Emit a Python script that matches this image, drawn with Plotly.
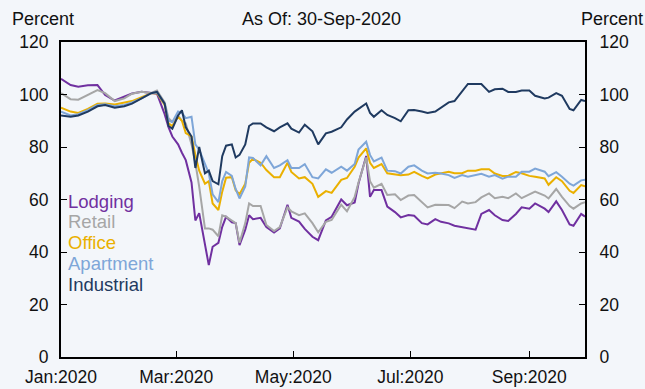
import plotly.graph_objects as go

dates = ["2020-01-01","2020-01-06","2020-01-10","2020-01-15","2020-01-20","2020-01-24","2020-01-29",
         "2020-02-03","2020-02-07","2020-02-12","2020-02-17","2020-02-20","2020-02-24","2020-02-26","2020-02-28",
         "2020-03-02","2020-03-04","2020-03-06","2020-03-09","2020-03-11","2020-03-13","2020-03-16","2020-03-18",
         "2020-03-20","2020-03-23","2020-03-25","2020-03-27","2020-03-30","2020-04-01","2020-04-03","2020-04-06",
         "2020-04-08","2020-04-10","2020-04-14","2020-04-17","2020-04-21","2020-04-24","2020-04-28","2020-04-30",
         "2020-05-04","2020-05-07","2020-05-11","2020-05-14","2020-05-18","2020-05-21","2020-05-26","2020-05-29",
         "2020-06-02","2020-06-04","2020-06-08","2020-06-10","2020-06-12","2020-06-16","2020-06-19","2020-06-23",
         "2020-06-26","2020-06-30","2020-07-03","2020-07-07","2020-07-10","2020-07-14","2020-07-17","2020-07-21",
         "2020-07-24","2020-07-28","2020-07-31","2020-08-04","2020-08-07","2020-08-11","2020-08-14","2020-08-18",
         "2020-08-21","2020-08-25","2020-08-28","2020-09-01","2020-09-04","2020-09-09","2020-09-11","2020-09-15",
         "2020-09-18","2020-09-22","2020-09-24","2020-09-28","2020-09-30"]

lodging = [106,103.6,103,103.5,103.6,99.8,97.7,99.2,100.4,101,100.5,100.3,92.5,87.6,84,81,77.8,75,66.5,52,54.8,43.5,35,
           42,43.5,49.6,53.4,51.3,51,42.6,48.5,54,52.5,53,49.5,47.4,49,58,53,51.6,48.8,45.8,44.5,52,53.4,60,57.8,
           58.9,66.1,76.6,61,63.6,63.6,57.3,55.2,53.2,54.1,53.8,51,50.5,52.5,51.5,50.9,50,49.5,49,48.5,54.5,56,54,
           52.2,51.8,54.5,57,56.5,58.5,56.5,55.2,59.3,56,50.5,50,54.5,53.5]

retail = [100.5,98.2,98,99.8,101.7,100.5,97.5,98.5,100.3,101,100.6,101.5,97,91,89.5,92,90,89,81,74,64.9,49,49,
          48.5,46,54,53.5,52,51,43.5,51,58.5,57.5,57.5,50.3,48,49.5,57,55.5,54,54.7,51,47.5,51.5,52.2,58,55.5,
          61,66.5,76,67,64.5,66,61.7,62,59.8,61.5,61.7,59,57,58,58,57.9,56.7,59.2,58.5,59,60.8,62.3,60.5,
          61,60.5,62.3,60.5,62,63,61.5,60.4,64,61,57.5,56.5,58.5,59]

office = [95,93.5,93,94.5,96.5,96.6,96.2,96.8,97.5,99,100.5,100.5,96,89,88,91.5,90,85.3,84,77,71,66,67,
          58.5,56,63,68.3,68.5,63.5,62,66,74,75.5,74,71.2,68.5,68.5,74,70.5,68,68.5,66,61,63.2,62.5,67.5,68.2,
          72.5,76,79.5,74,72,73.5,70,69.5,69.2,69.5,70.5,69,68,69.5,70,70.6,70,70,71,71,71.5,71.5,69.9,
          69,69,70.5,70,69,68.7,68,65.6,68.5,67,63.3,62.5,65.5,65]

apartment = [93.5,92,92.5,94,96,96.3,95.5,96,97,98.5,100.5,100.8,96.5,90,89.5,93.5,93,91,91.5,81,79,73.5,70,
             62,59,67,70.5,69,64,60.4,65,76,75.8,73,76.5,72,73,75,72,72,73.5,68.5,68,71.5,70.2,72.5,71,
             73.5,79,82,77,74.5,76,71,70.8,69.9,72.5,73,71,69.9,70.2,69.9,69.3,68.2,69.3,68.7,69.3,69.8,68.7,69.3,
             67.9,68.7,68.7,70.6,70.6,71.8,70.6,68.9,70.4,68.7,66,65.3,67.3,67.5]

industrial = [92,91.5,92,93.5,95.5,96,95,95.5,96.5,98.5,100.5,101,96.5,88,87,92,94,87.5,84,72,80,70,71,
              67,65.8,76.5,80.5,81,76,77,81,88,89,89,87.5,86,87.5,89,87,85.5,88.5,86,81,85.2,85.8,87.5,90.5,
              93.5,94.5,96.6,93,91.5,94,92.2,91,89.8,94,94.1,93.5,93,93.5,95,97,97.5,101,104,104,104,101,102,
              102.2,101,101,101.5,101.5,99.5,98.5,98.8,100.5,99.5,94.5,94,97.9,97.5]

series_names = ["Lodging", "Retail", "Office", "Apartment", "Industrial"]
series_values = [lodging, retail, office, apartment, industrial]
series_colors = ["#7030a0", "#a6a6a6", "#eab000", "#7ea6d8", "#1f3a60"]

tick_dates = ["2020-01-01", "2020-03-01", "2020-05-01", "2020-07-01", "2020-09-01"]
tick_labels = ["Jan:2020", "Mar:2020", "May:2020", "Jul:2020", "Sep:2020"]
y_ticks = [0, 20, 40, 60, 80, 100, 120]

FONT = "Arial, Liberation Sans, sans-serif"
BG = "#f3f6fa"
TXT = "#111"

fig = go.Figure()
for name, vals, col in zip(series_names, series_values, series_colors):
    fig.add_trace(go.Scatter(x=dates, y=vals, mode="lines", name=name,
                             line=dict(color=col, width=2), showlegend=False))
fig.add_trace(go.Scatter(x=[dates[0]], y=[None], yaxis="y2", showlegend=False, hoverinfo="skip"))

axis_common = dict(showline=True, linecolor="black", linewidth=2, ticks="inside", ticklen=6,
                   tickcolor="black", tickwidth=1, showgrid=False, zeroline=False, automargin=False,
                   tickfont=dict(family=FONT, size=17.5, color=TXT))

fig.update_layout(
    width=645, height=389,
    paper_bgcolor=BG, plot_bgcolor=BG,
    margin=dict(l=61, r=60, t=42, b=32),
    xaxis=dict(range=["2020-01-01", "2020-09-30"], tickvals=tick_dates, ticktext=tick_labels,
               mirror=True, ticklabelstandoff=3, **axis_common),
    yaxis=dict(range=[0, 120], tickvals=y_ticks, mirror=True, ticklabelstandoff=7, **axis_common),
    yaxis2=dict(range=[0, 120], tickvals=y_ticks, overlaying="y", side="right", ticklabelstandoff=9,
                **axis_common),
)

for i, (name, col) in enumerate(zip(series_names, series_colors)):
    fig.add_annotation(text=name, xref="paper", yref="y", x=0, y=0, xanchor="left", yanchor="middle",
                       xshift=5, yshift=(357 - (201 + i * 20.8)), showarrow=False,
                       font=dict(family=FONT, size=18.5, color=col))

fig.add_annotation(text="Percent", xref="paper", yref="paper", x=0, y=1, xanchor="center", yanchor="middle",
                   xshift=-18, yshift=23, showarrow=False, font=dict(family=FONT, size=18, color=TXT))
fig.add_annotation(text="Percent", xref="paper", yref="paper", x=1, y=1, xanchor="right", yanchor="middle",
                   xshift=60, yshift=23, showarrow=False, font=dict(family=FONT, size=18, color=TXT))
fig.add_annotation(text="As Of: 30-Sep-2020", xref="paper", yref="paper", x=0.5, y=1, xanchor="center",
                   yanchor="middle", xshift=-2, yshift=23, showarrow=False,
                   font=dict(family=FONT, size=18, color=TXT))

fig.write_html("out.html", config={"displayModeBar": False},
               post_script="document.body.style.margin='0px';")
